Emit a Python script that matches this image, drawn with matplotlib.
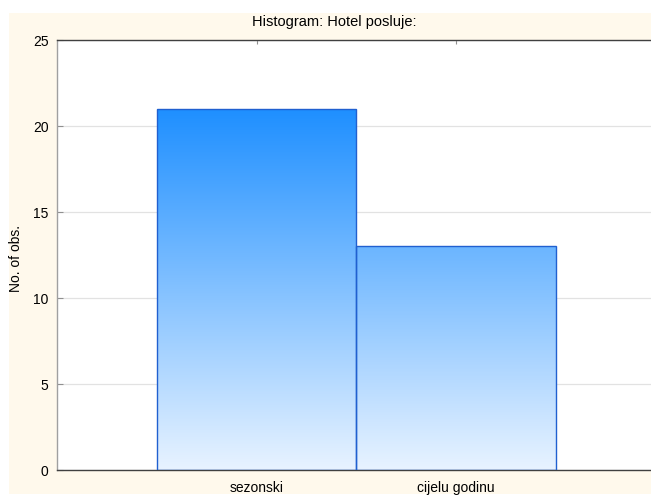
import numpy as np
import matplotlib
matplotlib.use("Agg")
import matplotlib.pyplot as plt
from matplotlib.colors import LinearSegmentedColormap
from matplotlib.patches import Rectangle

# ---------- data ----------
categories = ["sezonski", "cijelu godinu"]
counts = [21, 13]
y_ticks = [0, 5, 10, 15, 20, 25]

plt.rcParams["font.family"] = ["Liberation Sans", "DejaVu Sans"]

W, H = 651, 495
fig = plt.figure(figsize=(W / 100, H / 100), dpi=100, facecolor="white")
# cream panel behind the plot (STATISTICA style)
fig.patches.append(Rectangle((9 / W, 1 / H), 1 - 9 / W, (H - 13 - 1) / H,
                             transform=fig.transFigure, facecolor="#FFF9EC",
                             edgecolor="none", zorder=-10))

# axes: left spine at x=57, top at y=40, bottom at y=470; x range 0..3 cut by the figure edge
ax = fig.add_axes([57 / W, (H - 470) / H, 598.5 / W, (470 - 40) / H])
ax.set_facecolor("white")

xs = np.arange(1, len(counts) + 1)
bars = ax.bar(xs, counts, width=1.0, facecolor="none", edgecolor="#2060D0",
              linewidth=1.0, zorder=3)

# vertical gradient, same scale for every bar (dark at top value)
cmap = LinearSegmentedColormap.from_list("grad", ["#E8F3FF", "#1E8FFF"])
vmax = max(counts)
for b in bars:
    x0, w, h = b.get_x(), b.get_width(), b.get_height()
    grad = np.linspace(0, h / vmax, 256).reshape(-1, 1)
    im = ax.imshow(grad, cmap=cmap, vmin=0, vmax=1, origin="lower",
                   extent=(x0, x0 + w, 0, h), aspect="auto", zorder=2)
    im.set_clip_path(b)

ax.set_xlim(0, 3)
ax.set_ylim(0, 25)
ax.set_yticks(y_ticks)
ax.yaxis.grid(True, color="#E2E2E2", linewidth=0.9)
ax.set_axisbelow(True)

ax.set_xticks(xs)
ax.set_xticklabels(categories, fontsize=10)
ax.tick_params(axis="x", direction="in", length=3, width=0.8, color="#909090",
               top=True, pad=8)
ax.tick_params(axis="y", direction="in", length=4, width=0.8, color="#909090",
               labelsize=10, pad=6)

for s in ["top", "bottom"]:
    ax.spines[s].set_color("#404040")
    ax.spines[s].set_linewidth(1.0)
ax.spines["left"].set_color("#A0A0A0")
ax.spines["left"].set_linewidth(1.0)
ax.spines["right"].set_visible(False)

fig.text(16 / W, 1 - 258 / H, "No. of obs.", rotation=90, ha="center",
         va="center", fontsize=10)
fig.text(334 / W, 1 - 22 / H, "Histogram: Hotel posluje:", ha="center",
         va="center", fontsize=10.5)

fig.savefig("out.png", dpi=100, facecolor=fig.get_facecolor())
